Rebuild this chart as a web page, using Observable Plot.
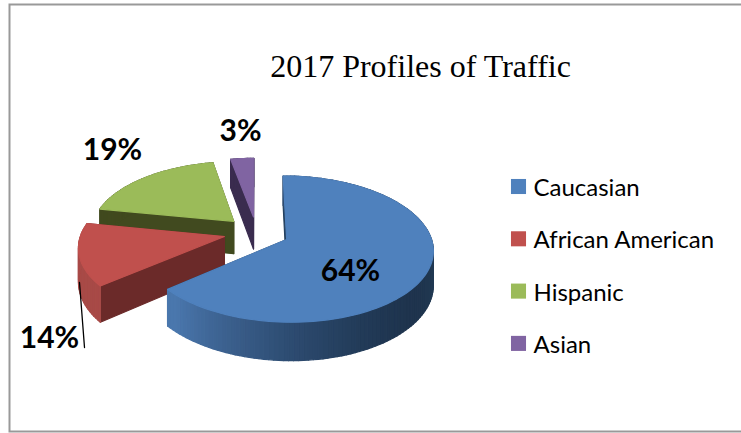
<!DOCTYPE html>
<html>
<head>
<meta charset="utf-8">
<script src="https://cdn.jsdelivr.net/npm/d3@7"></script>
<script src="https://cdn.jsdelivr.net/npm/@observablehq/plot@0.6"></script>
<style>html,body{margin:0;padding:0;background:#fff}svg{display:block}</style>
</head>
<body>
<div id="chart"></div>
<script>
const title = "2017 Profiles of Traffic";
const categories = ["Caucasian", "African American", "Hispanic", "Asian"];
const shares = [64, 14, 19, 3];
const topColors = ["#4f81bd", "#c0504d", "#9bbb59", "#8064a2"];
const cutColors = ["#24405f", "#6b2a29", "#414a1f", "#3a2c4f"];
const wallStops = [
  ["#4a77ad", "#34557f", "#213a57", "#1d3048", "#24405c"],
  ["#a84a47", "#a84a47", "#a84a47", "#a84a47", "#a84a47"],
  ["#414a1f", "#414a1f", "#414a1f", "#414a1f", "#414a1f"],
  ["#3a2c4f", "#3a2c4f", "#3a2c4f", "#3a2c4f", "#3a2c4f"]
];
const labelAt = [[350, 271], [49, 338], [112, 150], [240, 131]];

// 3D projection of the exploded pie
const cx = 256, cy = 232, rx = 143, ry = 70, k = 0.13, depth = 33, explode = 0.23;
const project = (X, Y, z) => {
  const s = 1 / (1 + k * Y);
  return [cx + rx * X * s, cy - ry * Y * s + z * depth * s];
};

const total = d3.sum(shares);
let acc = 0;
const slices = shares.map((v, i) => {
  const a0 = acc / total * 2 * Math.PI; acc += v;
  const a1 = acc / total * 2 * Math.PI;
  const mid = (a0 + a1) / 2;
  return {i, a0, a1, ox: Math.sin(mid) * explode, oy: Math.cos(mid) * explode};
});

const polys = [];
let pid = 0;
const addPoly = (pts, color) => {
  const id = pid++;
  for (const [x, y] of pts) polys.push({id, x, y, color});
};
for (const s of [slices[3], slices[2], slices[1], slices[0]]) {
  const rim = (a, z) => project(s.ox + Math.sin(a), s.oy + Math.cos(a), z);
  const apex = z => project(s.ox, s.oy, z);
  // radial cut faces
  addPoly([apex(0), rim(s.a1, 0), rim(s.a1, 1), apex(1)], cutColors[s.i]);
  addPoly([apex(0), rim(s.a0, 0), rim(s.a0, 1), apex(1)], cutColors[s.i]);
  // outer wall, shaded by angle
  const n = Math.max(4, Math.ceil((s.a1 - s.a0) / 0.03));
  const shade = d3.interpolateRgbBasis(wallStops[s.i].slice().reverse());
  for (let j = 0; j < n; j++) {
    const a = s.a0 + (s.a1 - s.a0) * j / n, b = s.a0 + (s.a1 - s.a0) * (j + 1) / n;
    const u = Math.min(1, Math.abs((a - Math.PI / 2)) / (3 * Math.PI / 4));
    addPoly([rim(a, 0), rim(b, 0), rim(b, 1), rim(a, 1)], shade(u));
  }
  // top face
  const top = [apex(0)];
  for (let j = 0; j <= n; j++) top.push(rim(s.a0 + (s.a1 - s.a0) * j / n, 0));
  addPoly(top, topColors[s.i]);
}

const legendX = 510, swatchY = 186, textY = 188, legendGap = 52.3;
const legend = categories.map((c, i) => ({c, i, sy: swatchY + i * legendGap, ty: textY + i * legendGap}));
const labels = shares.map((v, i) => ({t: v + "%", x: labelAt[i][0], y: labelAt[i][1]}));

const plot = Plot.plot({
  width: 741, height: 433, margin: 0,
  x: {domain: [0, 741], range: [0, 741], axis: null},
  y: {domain: [0, 433], range: [0, 433], axis: null},
  style: {background: "#fff"},
  marks: [
    Plot.rect([0], {x1: 9.5, x2: 760, y1: 4.5, y2: 431.5, fill: "#fff", stroke: "#999", strokeWidth: 2}),
    Plot.line(polys, {x: "x", y: "y", z: "id", fill: "color", stroke: "color", strokeWidth: 1.2, curve: "linear-closed"}),
    Plot.line([[79, 282], [84, 347]], {x: d => d[0], y: d => d[1], stroke: "#000", strokeWidth: 1.3}),
    Plot.text(labels, {x: "x", y: "y", text: "t", fontFamily: "Lato", fontWeight: 700, fontSize: 30, fill: "#000"}),
    Plot.text([title], {x: 420, y: 66, text: d => d, fontFamily: "Liberation Serif", fontSize: 32, fill: "#000"}),
    Plot.dot(legend, {x: legendX + 8, y: "sy", symbol: "square", r: 8.5, fill: d => topColors[d.i], stroke: null}),
    Plot.text(legend, {x: legendX + 23, y: "ty", text: "c", textAnchor: "start", fontFamily: "Lato", fontSize: 24, fill: "#000"})
  ]
});
document.getElementById("chart").append(plot);
</script>
</body>
</html>
